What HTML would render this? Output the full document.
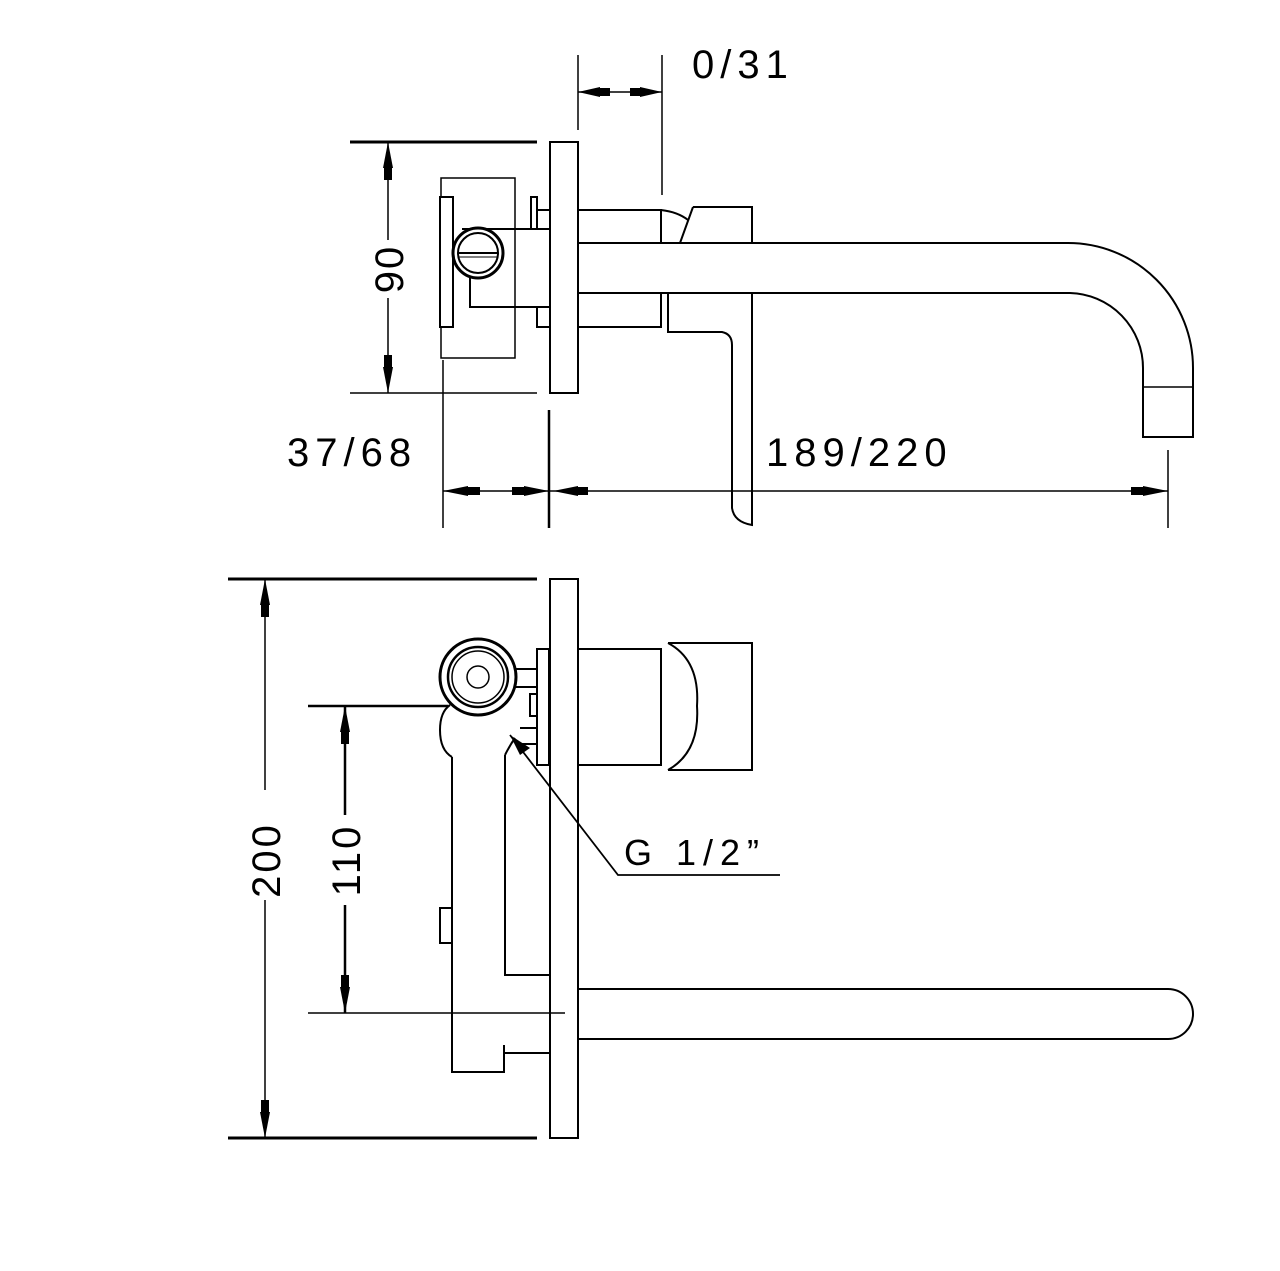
<!DOCTYPE html>
<html><head><meta charset="utf-8"><style>
html,body{margin:0;padding:0;background:#fff;}
svg{display:block;}
text{font-family:"Liberation Sans",sans-serif;fill:#000;}
</style></head><body>
<svg width="1280" height="1271" viewBox="0 0 1280 1271" xmlns="http://www.w3.org/2000/svg">
<g fill="none" stroke="#000" stroke-width="2">
<line x1="578" y1="55" x2="578" y2="130" stroke-width="1.5"/>
<line x1="662" y1="55" x2="662" y2="195" stroke-width="1.5"/>
<line x1="578" y1="92" x2="662" y2="92" stroke-width="1.5"/>
<line x1="350" y1="142" x2="537" y2="142" stroke-width="3"/>
<line x1="350" y1="393" x2="537" y2="393" stroke-width="1.5"/>
<line x1="388" y1="142" x2="388" y2="240" stroke-width="1.5"/>
<line x1="388" y1="298" x2="388" y2="393" stroke-width="1.5"/>
<rect x="550" y="142" width="28" height="251"/>
<rect x="441" y="178" width="74" height="180" stroke-width="1.5"/>
<rect x="440" y="197" width="13" height="130" fill="#fff"/>
<path d="M462 229 H549 M470 270 V307 H549"/>
<rect x="531" y="197" width="6" height="32"/>
<path d="M537 210 H549 M537 307 V327 H549"/>
<circle cx="478" cy="253" r="25" fill="#fff" stroke-width="3"/>
<circle cx="478" cy="253" r="20"/>
<line x1="458" y1="253" x2="498" y2="253"/>
<line x1="458" y1="257" x2="498" y2="257" stroke-width="1"/>
<path d="M578 210 H661 V243 M578 327 H661 V293"/>
<path d="M661 210 Q678 212 688 220"/>
<path d="M693 207 H752 V243 M693 207 L680 243"/>
<path d="M668 293 V332 H722 Q732 334 732 345 V508 Q734 522 752 525 V293"/>
<path d="M578 243 H1068 A125 125 0 0 1 1193 368 V437 H1143 V368 A75 75 0 0 0 1070 293 H578"/>
<line x1="1143" y1="387" x2="1193" y2="387" stroke-width="1.5"/>
<line x1="443" y1="360" x2="443" y2="528" stroke-width="1.5"/>
<line x1="549" y1="410" x2="549" y2="528" stroke-width="2.5"/>
<line x1="1168" y1="450" x2="1168" y2="528" stroke-width="1.5"/>
<line x1="443" y1="491" x2="1168" y2="491" stroke-width="1.5"/>

<line x1="228" y1="579" x2="537" y2="579" stroke-width="3"/>
<line x1="228" y1="1138" x2="537" y2="1138" stroke-width="3"/>
<line x1="265" y1="579" x2="265" y2="790" stroke-width="1.5"/>
<line x1="265" y1="900" x2="265" y2="1138" stroke-width="1.5"/>
<line x1="308" y1="706" x2="448" y2="706" stroke-width="2.5"/>
<line x1="308" y1="1013" x2="565" y2="1013" stroke-width="1.5"/>
<line x1="345" y1="706" x2="345" y2="815" stroke-width="2.5"/>
<line x1="345" y1="905" x2="345" y2="1013" stroke-width="2.5"/>
<rect x="550" y="579" width="28" height="559"/>
<path d="M452 757 V1072 H504 V1045 M504 1053 H549"/>
<path d="M505 755 V975 H549"/>
<path d="M452 757 Q440 750 440 730 Q440 712 450 705"/>
<path d="M505 755 Q510 745 515 738"/>
<rect x="440" y="908" width="12" height="35"/>
<rect x="537" y="649" width="12" height="116"/>
<path d="M515 669 H537 M515 687 H537 M520 728 H537 M520 744 H537"/>
<rect x="530" y="694" width="7" height="22"/>
<circle cx="478" cy="677" r="38" fill="#fff" stroke-width="3"/>
<circle cx="478" cy="677" r="30" stroke-width="2.5"/>
<circle cx="478" cy="677" r="26" stroke-width="1.5"/>
<circle cx="478" cy="677" r="11" stroke-width="1.5"/>
<path d="M578 649 H661 V765 H578"/>
<path d="M668 643 H752 V770 H668 M668 643 Q700 660 697 706 Q700 752 668 770"/>
<path d="M578 989 H1168 A25 25 0 0 1 1168 1039 H578"/>
<path d="M510 735 L618 875 H780" stroke-width="1.8"/>
</g>
<g fill="#000">
<polygon points="578,92 600,87 600,97"/><rect x="600" y="88" width="10" height="8"/>
<polygon points="662,92 640,87 640,97"/><rect x="630" y="88" width="10" height="8"/>
<polygon points="388,142 383,168 393,168"/><rect x="384" y="168" width="8" height="12"/>
<polygon points="388,393 383,367 393,367"/><rect x="384" y="355" width="8" height="12"/>
<polygon points="443,491 468,486 468,496"/><rect x="468" y="487" width="12" height="8"/>
<polygon points="549,491 524,486 524,496"/><rect x="512" y="487" width="12" height="8"/>
<polygon points="553,491 578,486 578,496"/><rect x="578" y="487" width="10" height="8"/>
<polygon points="1168,491 1143,486 1143,496"/><rect x="1131" y="487" width="12" height="8"/>
<polygon points="265,579 260,605 270,605"/><rect x="261" y="605" width="8" height="12"/>
<polygon points="265,1138 260,1112 270,1112"/><rect x="261" y="1100" width="8" height="12"/>
<polygon points="345,706 340,732 350,732"/><rect x="341" y="732" width="8" height="12"/>
<polygon points="345,1013 340,987 350,987"/><rect x="341" y="975" width="8" height="12"/>
<polygon points="510,735 520,755 530,748"/>
</g>
<g font-size="40" letter-spacing="6">
<text x="692" y="78">0/31</text>
<text x="287" y="466">37/68</text>
<text x="766" y="466">189/220</text>
<text x="624" y="865" font-size="36" letter-spacing="7">G 1/2”</text>
<text transform="translate(403,269) rotate(-90)" text-anchor="middle" letter-spacing="2">90</text>
<text transform="translate(280,860) rotate(-90)" text-anchor="middle" letter-spacing="3">200</text>
<text transform="translate(360,860) rotate(-90)" text-anchor="middle" letter-spacing="3">110</text>
</g>
</svg>
</body></html>
